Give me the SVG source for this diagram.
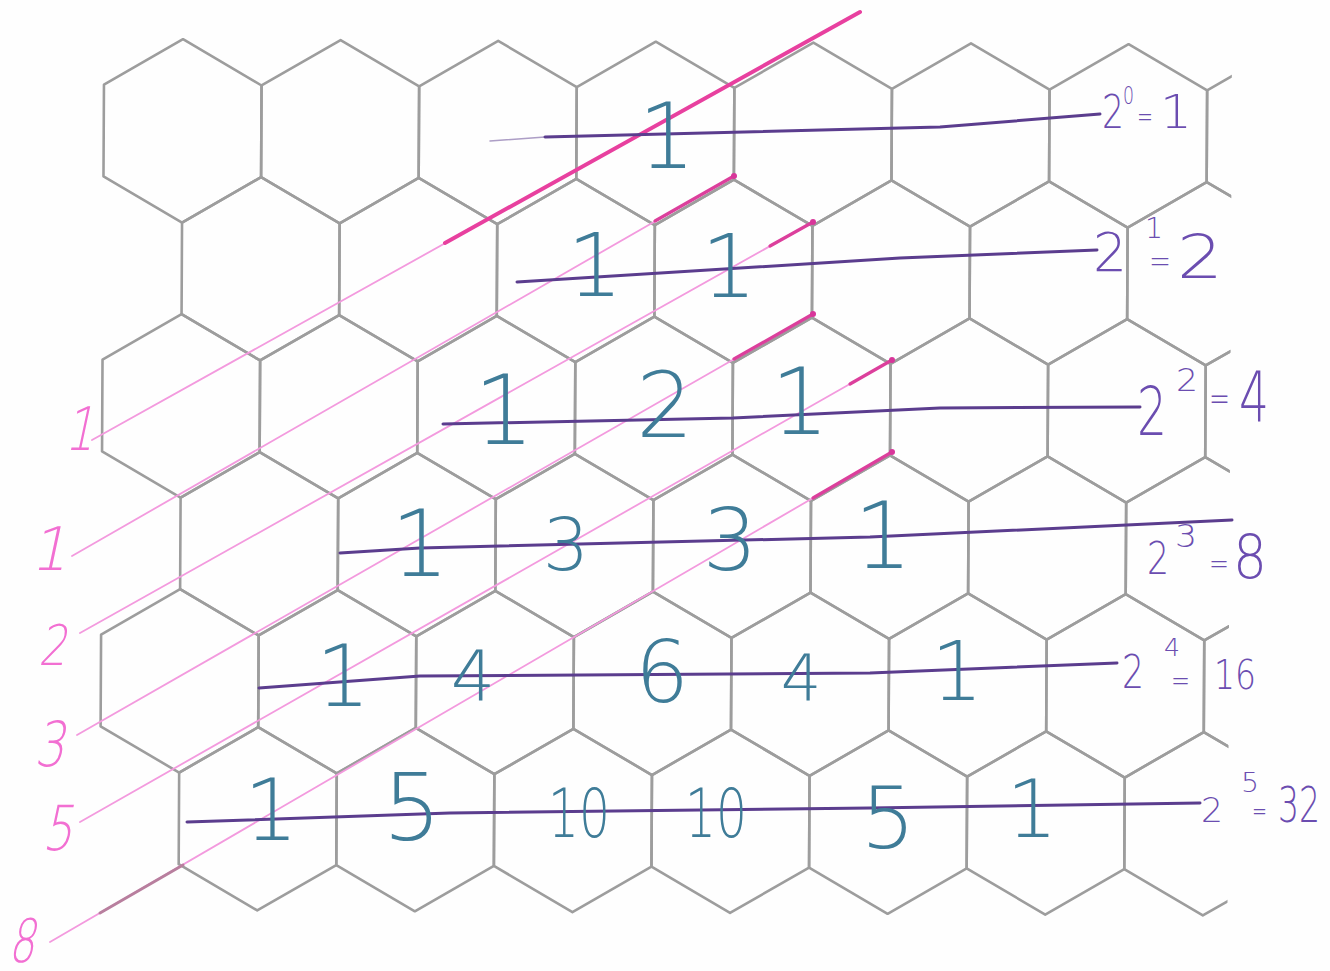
<svg xmlns="http://www.w3.org/2000/svg" width="1330" height="971" viewBox="0 0 1330 971">
<defs>
<style>
.hex{fill:none;stroke:#9d9d9d;stroke-width:2.6;stroke-linejoin:round}
.pk{fill:none;stroke:#f39ade;stroke-width:1.8;stroke-linecap:round}
.pkd{fill:none;stroke:#dc3f9c;stroke-width:3.2;stroke-linecap:round}
.pu{fill:none;stroke:#5b3d8e;stroke-width:3;stroke-linecap:round;stroke-linejoin:round}
.num{font-family:"DejaVu Sans",sans-serif;font-weight:200;fill:#3f7c98;text-anchor:middle}
.plab text{font-family:"DejaVu Sans",sans-serif;font-weight:200;fill:#6b4db0}
.flab{font-family:"DejaVu Sans",sans-serif;font-weight:200;fill:#f26fd2}
</style>
<polygon id="hx" points="0,-91.67 78.8,-45.83 78.8,45.83 0,91.67 -78.8,45.83 -78.8,-45.83"/>
<clipPath id="clipR"><rect x="0" y="0" width="1232" height="971"/></clipPath>
</defs>
<rect width="1330" height="971" fill="#fefefe"/>
<g id="grid" class="hex" transform="rotate(0.3 104 39)" clip-path="url(#clipR)">
<use href="#hx" x="183" y="130.5"/><use href="#hx" x="340.6" y="130.5"/><use href="#hx" x="498.2" y="130.5"/><use href="#hx" x="655.8" y="130.5"/><use href="#hx" x="813.4" y="130.5"/><use href="#hx" x="971" y="130.5"/><use href="#hx" x="1128.6" y="130.5"/><use href="#hx" x="1286.2" y="130.5"/>
<use href="#hx" x="261.8" y="268"/><use href="#hx" x="419.4" y="268"/><use href="#hx" x="577" y="268"/><use href="#hx" x="734.6" y="268"/><use href="#hx" x="892.2" y="268"/><use href="#hx" x="1049.8" y="268"/><use href="#hx" x="1207.4" y="268"/>
<use href="#hx" x="183" y="405.5"/><use href="#hx" x="340.6" y="405.5"/><use href="#hx" x="498.2" y="405.5"/><use href="#hx" x="655.8" y="405.5"/><use href="#hx" x="813.4" y="405.5"/><use href="#hx" x="971" y="405.5"/><use href="#hx" x="1128.6" y="405.5"/><use href="#hx" x="1286.2" y="405.5"/>
<use href="#hx" x="261.8" y="543"/><use href="#hx" x="419.4" y="543"/><use href="#hx" x="577" y="543"/><use href="#hx" x="734.6" y="543"/><use href="#hx" x="892.2" y="543"/><use href="#hx" x="1049.8" y="543"/><use href="#hx" x="1207.4" y="543"/>
<use href="#hx" x="183" y="680.5"/><use href="#hx" x="340.6" y="680.5"/><use href="#hx" x="498.2" y="680.5"/><use href="#hx" x="655.8" y="680.5"/><use href="#hx" x="813.4" y="680.5"/><use href="#hx" x="971" y="680.5"/><use href="#hx" x="1128.6" y="680.5"/><use href="#hx" x="1286.2" y="680.5"/>
<use href="#hx" x="261.8" y="818"/><use href="#hx" x="419.4" y="818"/><use href="#hx" x="577" y="818"/><use href="#hx" x="734.6" y="818"/><use href="#hx" x="892.2" y="818"/><use href="#hx" x="1049.8" y="818"/><use href="#hx" x="1207.4" y="818"/>
</g>
<g id="pink-diagonals">
<line class="pk" x1="92" y1="440" x2="860" y2="12"/>
<line class="pkd" x1="445" y1="243" x2="860" y2="12" style="stroke:#e8409f;stroke-width:4"/>
<line class="pk" x1="72" y1="556" x2="734" y2="176"/>
<line class="pkd" x1="655" y1="221" x2="734" y2="176"/>
<line class="pk" x1="80" y1="633" x2="813" y2="222"/>
<line class="pkd" x1="770" y1="246" x2="813" y2="222"/>
<line class="pk" x1="77" y1="735" x2="813" y2="314"/>
<line class="pkd" x1="734" y1="359" x2="813" y2="314"/>
<line class="pk" x1="80" y1="822" x2="892" y2="360"/>
<line class="pkd" x1="850" y1="384" x2="892" y2="360"/>
<line class="pk" x1="50" y1="942" x2="892" y2="452"/>
<line class="pkd" x1="813" y1="498" x2="892" y2="452"/>
<line class="pkd" x1="100" y1="913" x2="183" y2="865" style="stroke:#b87f9e;stroke-width:3"/>
<g fill="#d8369a">
<circle cx="734" cy="176" r="3"/><circle cx="813" cy="222" r="3"/><circle cx="813" cy="314" r="3"/><circle cx="892" cy="360" r="3"/><circle cx="892" cy="452" r="3"/>
</g>
</g>
<g id="fib-labels" class="flab">
<text transform="translate(64 450) skewX(-12)" font-size="60" textLength="30" lengthAdjust="spacingAndGlyphs">1</text>
<text transform="translate(30 570) skewX(-12)" font-size="60" textLength="38" lengthAdjust="spacingAndGlyphs">1</text>
<text transform="translate(38 665) skewX(-12)" font-size="56" textLength="28" lengthAdjust="spacingAndGlyphs">2</text>
<text transform="translate(34 766) skewX(-12)" font-size="62" textLength="30" lengthAdjust="spacingAndGlyphs">3</text>
<text transform="translate(42 850) skewX(-12)" font-size="62" textLength="30" lengthAdjust="spacingAndGlyphs">5</text>
<text transform="translate(8 962) skewX(-12)" font-size="60" textLength="26" lengthAdjust="spacingAndGlyphs">8</text>
</g>
<g id="row-lines">
<path class="pu" d="M490,141 L545,137" style="stroke-width:1.5;opacity:0.5"/>
<path class="pu" d="M545,137 L940,127 L1100,114"/>
<path class="pu" d="M517,282 L900,258 L1097,250"/>
<path class="pu" d="M443,424 L733,418 L940,408 L1140,407"/>
<path class="pu" d="M340,553 L420,548 L870,537 L1232,520"/>
<path class="pu" d="M259,688 L420,676 L870,673 L1117,663"/>
<path class="pu" d="M187,822 L450,813 L870,808 L1200,803"/>
</g>
<g id="pascal-numbers" class="num">
<text x="667" y="168" font-size="90">1</text>
<text x="595" y="296" font-size="88">1</text>
<text x="729" y="297" font-size="88">1</text>
<text x="504" y="444" font-size="96">1</text>
<text x="665" y="437" font-size="90">2</text>
<text x="800" y="434" font-size="92">1</text>
<text x="420" y="576" font-size="92">1</text>
<text x="566" y="570" font-size="73">3</text>
<text x="730" y="570" font-size="86">3</text>
<text x="883" y="568" font-size="92">1</text>
<text x="343" y="706" font-size="86">1</text>
<text x="473" y="700" font-size="70">4</text>
<text x="662" y="702" font-size="85">6</text>
<text x="801" y="700" font-size="64">4</text>
<text x="957" y="700" font-size="82">1</text>
<text x="271" y="840" font-size="86">1</text>
<text x="412" y="840" font-size="92">5</text>
<text x="579" y="837" font-size="67" textLength="62" lengthAdjust="spacingAndGlyphs">10</text>
<text x="716" y="837" font-size="67" textLength="62" lengthAdjust="spacingAndGlyphs">10</text>
<text x="888" y="848" font-size="86">5</text>
<text x="1032" y="837" font-size="81">1</text>
</g>
<g id="power-labels" class="plab">
<g id="p0">
<text x="1102" y="128" font-size="46" textLength="22" lengthAdjust="spacingAndGlyphs">2</text>
<text x="1123" y="104" font-size="24" textLength="11" lengthAdjust="spacingAndGlyphs">0</text>
<text x="1137" y="127" font-size="32" textLength="16" lengthAdjust="spacingAndGlyphs">=</text>
<text x="1160" y="128" font-size="46" textLength="32" lengthAdjust="spacingAndGlyphs">1</text>
</g>
<g id="p1">
<text x="1093" y="271" font-size="54" textLength="34" lengthAdjust="spacingAndGlyphs">2</text>
<text x="1145" y="238" font-size="28" textLength="18" lengthAdjust="spacingAndGlyphs">1</text>
<text x="1149" y="273" font-size="36" textLength="22" lengthAdjust="spacingAndGlyphs">=</text>
<text x="1177" y="278" font-size="60" textLength="46" lengthAdjust="spacingAndGlyphs">2</text>
</g>
<g id="p2">
<text x="1137" y="435" font-size="68" textLength="30" lengthAdjust="spacingAndGlyphs">2</text>
<text x="1176" y="391" font-size="32" textLength="22" lengthAdjust="spacingAndGlyphs">2</text>
<text x="1209" y="411" font-size="38" textLength="21" lengthAdjust="spacingAndGlyphs">=</text>
<text x="1239" y="421" font-size="70" textLength="30" lengthAdjust="spacingAndGlyphs">4</text>
</g>
<g id="p3">
<text x="1147" y="574" font-size="44" textLength="22" lengthAdjust="spacingAndGlyphs">2</text>
<text x="1175" y="547" font-size="32" font-weight="bold" textLength="22" lengthAdjust="spacingAndGlyphs">3</text>
<text x="1209" y="575" font-size="34" textLength="20" lengthAdjust="spacingAndGlyphs">=</text>
<text x="1233" y="578" font-size="60" textLength="34" lengthAdjust="spacingAndGlyphs">8</text>
</g>
<g id="p4">
<text x="1122" y="688" font-size="46" textLength="22" lengthAdjust="spacingAndGlyphs">2</text>
<text x="1164" y="656" font-size="24" textLength="16" lengthAdjust="spacingAndGlyphs">4</text>
<text x="1171" y="691" font-size="32" textLength="19" lengthAdjust="spacingAndGlyphs">=</text>
<text x="1214" y="689" font-size="40" textLength="42" lengthAdjust="spacingAndGlyphs">16</text>
</g>
<g id="p5">
<text x="1201" y="822" font-size="34" textLength="22" lengthAdjust="spacingAndGlyphs">2</text>
<text x="1241" y="792" font-size="26" textLength="18" lengthAdjust="spacingAndGlyphs">5</text>
<text x="1252" y="820" font-size="28" textLength="15" lengthAdjust="spacingAndGlyphs">=</text>
<text x="1278" y="822" font-size="50" textLength="42" lengthAdjust="spacingAndGlyphs">32</text>
</g>
</g>
</svg>
